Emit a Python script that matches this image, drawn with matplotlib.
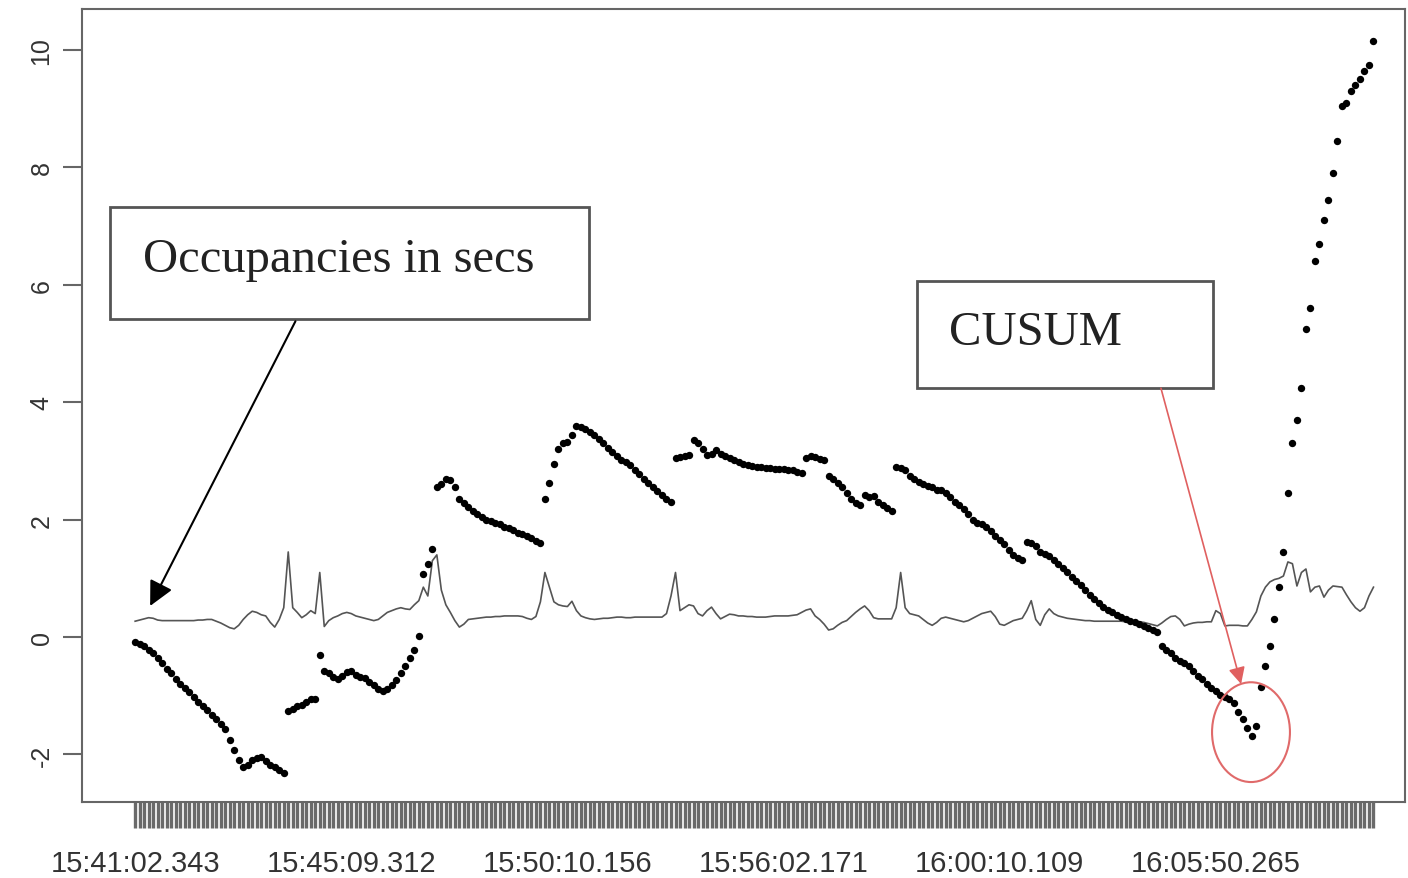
import numpy as np
import matplotlib.pyplot as plt
from matplotlib.patches import Rectangle, Ellipse

plt.rcParams['font.family'] = ['Liberation Sans', 'DejaVu Sans']
plt.rcParams['axes.unicode_minus'] = False

# one label every 48 observations on the factor axis
time_labels = ['15:41:02.343', '15:45:09.312', '15:50:10.156',
               '15:56:02.171', '16:00:10.109', '16:05:50.265']
label_step = 48

cusum = [
    -0.08, -0.12, -0.16, -0.22, -0.27, -0.36, -0.45, -0.54, -0.62, -0.71,
    -0.80, -0.87, -0.94, -1.02, -1.10, -1.18, -1.24, -1.32, -1.40, -1.48,
    -1.56, -1.76, -1.92, -2.10, -2.22, -2.18, -2.10, -2.06, -2.05, -2.12,
    -2.18, -2.22, -2.26, -2.32, -1.26, -1.22, -1.18, -1.16, -1.10, -1.06,
    -1.05, -0.30, -0.58, -0.62, -0.68, -0.72, -0.66, -0.60, -0.58, -0.64,
    -0.68, -0.70, -0.76, -0.82, -0.88, -0.92, -0.88, -0.82, -0.74, -0.62,
    -0.50, -0.36, -0.22, 0.02, 1.08, 1.25, 1.50, 2.55, 2.60, 2.70,
    2.68, 2.55, 2.35, 2.28, 2.22, 2.15, 2.10, 2.05, 2.00, 1.97,
    1.95, 1.92, 1.88, 1.86, 1.82, 1.78, 1.75, 1.72, 1.68, 1.64,
    1.60, 2.35, 2.62, 2.95, 3.20, 3.30, 3.32, 3.45, 3.60, 3.58,
    3.55, 3.50, 3.45, 3.38, 3.30, 3.22, 3.15, 3.08, 3.02, 2.98,
    2.93, 2.85, 2.78, 2.70, 2.62, 2.55, 2.48, 2.42, 2.35, 2.30,
    3.05, 3.06, 3.08, 3.10, 3.35, 3.30, 3.20, 3.10, 3.12, 3.18,
    3.12, 3.08, 3.05, 3.02, 2.98, 2.95, 2.93, 2.92, 2.90, 2.90,
    2.88, 2.88, 2.87, 2.87, 2.86, 2.85, 2.84, 2.82, 2.80, 3.05,
    3.08, 3.06, 3.04, 3.02, 2.75, 2.70, 2.62, 2.55, 2.45, 2.35,
    2.28, 2.25, 2.42, 2.38, 2.40, 2.30, 2.25, 2.20, 2.15, 2.90,
    2.88, 2.85, 2.75, 2.70, 2.65, 2.60, 2.58, 2.55, 2.50, 2.50,
    2.45, 2.38, 2.30, 2.25, 2.18, 2.10, 2.00, 1.95, 1.92, 1.88,
    1.80, 1.72, 1.65, 1.58, 1.48, 1.40, 1.35, 1.32, 1.62, 1.60,
    1.55, 1.45, 1.42, 1.38, 1.32, 1.25, 1.18, 1.10, 1.02, 0.95,
    0.88, 0.80, 0.72, 0.65, 0.58, 0.52, 0.46, 0.42, 0.38, 0.34,
    0.31, 0.28, 0.25, 0.22, 0.19, 0.15, 0.12, 0.08, -0.15, -0.22,
    -0.28, -0.35, -0.40, -0.45, -0.50, -0.58, -0.66, -0.72, -0.80, -0.86,
    -0.92, -0.98, -1.02, -1.06, -1.12, -1.28, -1.40, -1.55, -1.68, -1.52,
    -0.85, -0.50, -0.15, 0.30, 0.85, 1.45, 2.45, 3.30, 3.70, 4.25,
    5.25, 5.60, 6.40, 6.70, 7.10, 7.45, 7.90, 8.45, 9.05, 9.10,
    9.30, 9.40, 9.50, 9.65, 9.75, 10.15,
]

# occupancy in seconds per observation
occupancy = [
    0.27, 0.29, 0.31, 0.33, 0.32, 0.29, 0.28, 0.28, 0.28, 0.28,
    0.28, 0.28, 0.28, 0.28, 0.29, 0.29, 0.30, 0.30, 0.27, 0.24,
    0.20, 0.16, 0.14, 0.20, 0.30, 0.38, 0.44, 0.42, 0.38, 0.36,
    0.25, 0.17, 0.30, 0.50, 1.45, 0.50, 0.42, 0.33, 0.38, 0.45,
    0.40, 1.10, 0.18, 0.28, 0.33, 0.36, 0.40, 0.42, 0.40, 0.36,
    0.34, 0.32, 0.30, 0.28, 0.30, 0.36, 0.42, 0.45, 0.48, 0.50,
    0.48, 0.47, 0.55, 0.62, 0.85, 0.70, 1.30, 1.40, 0.80, 0.55,
    0.42, 0.28, 0.17, 0.22, 0.30, 0.31, 0.32, 0.33, 0.34, 0.34,
    0.35, 0.35, 0.36, 0.36, 0.36, 0.36, 0.35, 0.32, 0.30, 0.35,
    0.60, 1.10, 0.85, 0.60, 0.55, 0.53, 0.52, 0.61, 0.45, 0.36,
    0.33, 0.31, 0.30, 0.31, 0.32, 0.32, 0.33, 0.34, 0.34, 0.33,
    0.33, 0.34, 0.34, 0.34, 0.34, 0.34, 0.34, 0.34, 0.40, 0.70,
    1.10, 0.45, 0.50, 0.55, 0.53, 0.40, 0.36, 0.45, 0.51, 0.40,
    0.31, 0.35, 0.39, 0.38, 0.36, 0.36, 0.35, 0.35, 0.34, 0.34,
    0.34, 0.35, 0.36, 0.36, 0.36, 0.36, 0.37, 0.38, 0.42, 0.46,
    0.48, 0.36, 0.30, 0.22, 0.12, 0.14, 0.20, 0.25, 0.28, 0.35,
    0.42, 0.48, 0.53, 0.45, 0.33, 0.31, 0.31, 0.31, 0.31, 0.50,
    1.10, 0.50, 0.40, 0.38, 0.36, 0.30, 0.24, 0.20, 0.25, 0.32,
    0.34, 0.32, 0.30, 0.28, 0.26, 0.28, 0.32, 0.36, 0.40, 0.42,
    0.44, 0.35, 0.22, 0.20, 0.24, 0.28, 0.30, 0.32, 0.45, 0.62,
    0.30, 0.20, 0.38, 0.48, 0.40, 0.36, 0.34, 0.32, 0.31, 0.30,
    0.29, 0.28, 0.28, 0.27, 0.27, 0.27, 0.27, 0.27, 0.27, 0.27,
    0.26, 0.26, 0.26, 0.26, 0.25, 0.23, 0.21, 0.19, 0.24, 0.30,
    0.35, 0.36, 0.30, 0.19, 0.22, 0.24, 0.25, 0.25, 0.26, 0.26,
    0.45, 0.40, 0.19, 0.20, 0.20, 0.20, 0.19, 0.19, 0.30, 0.43,
    0.70, 0.85, 0.94, 0.98, 1.00, 1.04, 1.28, 1.25, 0.87, 1.10,
    1.16, 0.77, 0.85, 0.87, 0.68, 0.80, 0.87, 0.86, 0.85, 0.72,
    0.60, 0.50, 0.44, 0.50, 0.70, 0.85,
]

n = len(cusum)
x = np.arange(n)

fig = plt.figure(figsize=(14.08, 8.79), dpi=100)
ax = fig.add_axes([82 / 1408, 1 - 803 / 879, (1405 - 82) / 1408, (803 - 10) / 879])

ax.plot(x, occupancy, color='#555555', lw=1.2, zorder=2)
ax.plot(x, cusum, 'o', color='black', ms=5.3, mec='none', zorder=3)

ax.set_xlim(-11.8, 282)
ax.set_ylim(-2.81, 10.70)

# factor axis: a tick per observation, labels only where they fit
ax.set_xticks(x[::label_step])
ax.set_xticklabels(time_labels)
ax.set_xticks(x, minor=True)
ax.tick_params(axis='x', which='both', length=19, width=2.4, color='#6a6a6a',
               pad=15, labelsize=21, labelcolor='#333333')

ax.set_yticks(np.arange(-2, 11, 2))
ax.tick_params(axis='y', length=13.5, width=1.5, color='#666666', pad=7,
               labelsize=18, labelcolor='#333333')
for lab in ax.get_yticklabels():
    lab.set_rotation(90)
    lab.set_verticalalignment('center')

for sp in ax.spines.values():
    sp.set_color('#666666')
    sp.set_linewidth(1.5)

# labelled boxes
ax.add_patch(Rectangle((-5.56, 5.42), 106.3, 1.91, fill=False, ec='#555555',
                       lw=2, zorder=4, clip_on=False))
ax.text(1.8, 6.23, 'Occupancies in secs', family='Liberation Serif',
        fontsize=35, color='#222222', va='baseline', zorder=5)

ax.add_patch(Rectangle((173.6, 4.24), 65.7, 1.82, fill=False, ec='#555555',
                       lw=2, zorder=4))
ax.text(180.7, 4.99, 'CUSUM', family='Liberation Serif',
        fontsize=35, color='#222222', va='baseline', zorder=5)

ax.annotate('', xy=(3.33, 0.53), xytext=(35.6, 5.38),
            arrowprops=dict(arrowstyle='-|>,head_length=0.6,head_width=0.3',
                            color='black', lw=1.5, mutation_scale=25,
                            shrinkA=0, shrinkB=0), zorder=5)

ax.annotate('', xy=(245.6, -0.80), xytext=(227.8, 4.24),
            arrowprops=dict(arrowstyle='-|>,head_length=0.5,head_width=0.25',
                            color='#e06060', lw=1.2, mutation_scale=20,
                            shrinkA=0, shrinkB=0), zorder=5)

ax.add_patch(Ellipse((247.8, -1.62), 17.3, 1.70, fill=False, ec='#e06a6a',
                     lw=1.5, zorder=5))

fig.savefig('out.png', dpi=100)
